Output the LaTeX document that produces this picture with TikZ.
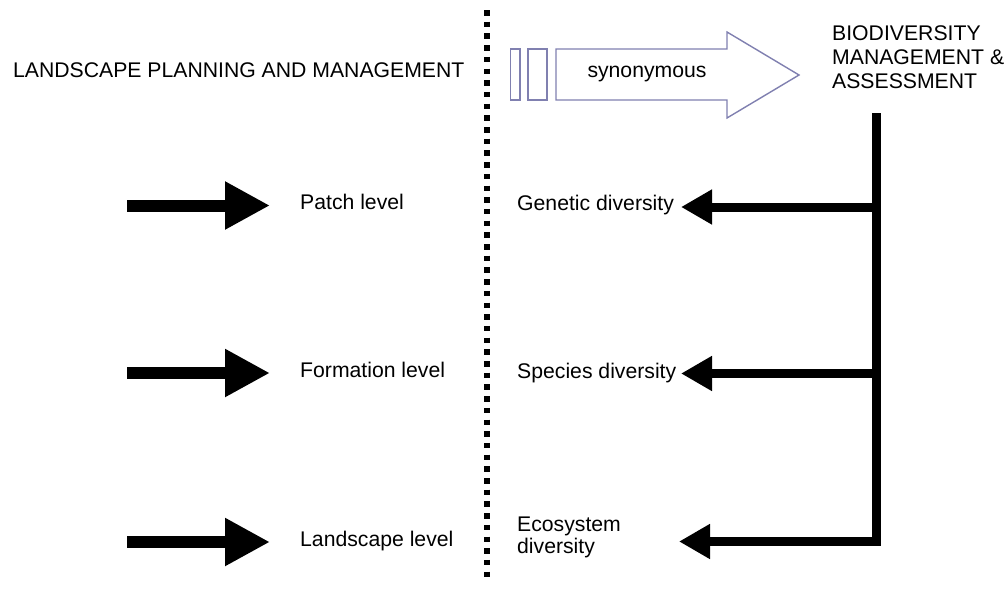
\documentclass[tikz,border=0pt]{standalone}
\usepackage{fontspec}
\setmainfont{Liberation Sans}
\usetikzlibrary{arrows.meta}
\definecolor{lavender}{RGB}{128,128,176}
\tikzset{
  label/.style={anchor=base west,inner sep=0pt,font=\fontsize{21.2}{24}\selectfont,align=left},
  levelarrow/.style={line width=12pt,-{Triangle[length=45pt,width=45pt]}},
  diversityarrow/.style={line width=9pt,line join=miter,-{Triangle[length=31pt,width=33pt]}},
  divider/.style={line width=6pt,dash pattern=on 5.5pt off 6.2pt},
  outlined/.style={draw=lavender,line width=1.4pt,fill=white}
}
\begin{document}
\begin{tikzpicture}[x=1pt,y=-1pt]
\useasboundingbox (0,0) rectangle (1007,589);

% dotted divider between the two columns
\coordinate (divtop) at (487,10);
\coordinate (divbot) at (487,582);
\draw[divider] (divtop) -- (divbot);

% headings (multi-line nodes are placed by their last baseline)
\node[label] (lpm) at (13,77) {LANDSCAPE PLANNING AND MANAGEMENT};
\node[label] (bma) at (832,88) {BIODIVERSITY\\MANAGEMENT \&\\ASSESSMENT};

% outlined "synonymous" arrow
\draw[outlined] (510.5,49) rectangle (520,100);
\draw[outlined] (528,49) rectangle (547,100);
\draw[outlined] (556,49) -- (727,49) -- (727,32) -- (799,75) -- (727,118)
  -- (727,100) -- (556,100) -- cycle;
\node[anchor=base,inner sep=0pt,font=\fontsize{21.2}{24}\selectfont] (syn) at (647,77) {synonymous};

% landscape planning levels
\node[label] (patch) at (300,209) {Patch level};
\node[label] (formation) at (300,377) {Formation level};
\node[label] (landscape) at (300,546) {Landscape level};

\coordinate (pa) at (127,205.5);  \coordinate (pb) at (270,205.5);
\coordinate (fa) at (127,373);    \coordinate (fb) at (270,373);
\coordinate (la) at (127,542);    \coordinate (lb) at (270,542);
\draw[levelarrow] (pa) -- (pb);
\draw[levelarrow] (fa) -- (fb);
\draw[levelarrow] (la) -- (lb);

% biodiversity levels
\node[label] (genetic) at (517,210) {Genetic diversity};
\node[label] (species) at (517,378) {Species diversity};
\node[label,font=\fontsize{21.2}{22}\selectfont] (ecosystem) at (517,553) {Ecosystem\\diversity};

% trunk with branches to each diversity level
\coordinate (ttop) at (876,113);
\coordinate (tg) at (876,207);
\coordinate (ts) at (876,373.5);
\coordinate (tcorner) at (876,541.5);
\coordinate (gtip) at (681,207);
\coordinate (stip) at (681,373.5);
\coordinate (etip) at (679,541.5);
\draw[diversityarrow] (ttop) -- (tcorner) -- (etip);
\draw[diversityarrow] (tg) -- (gtip);
\draw[diversityarrow] (ts) -- (stip);
\end{tikzpicture}
\end{document}
